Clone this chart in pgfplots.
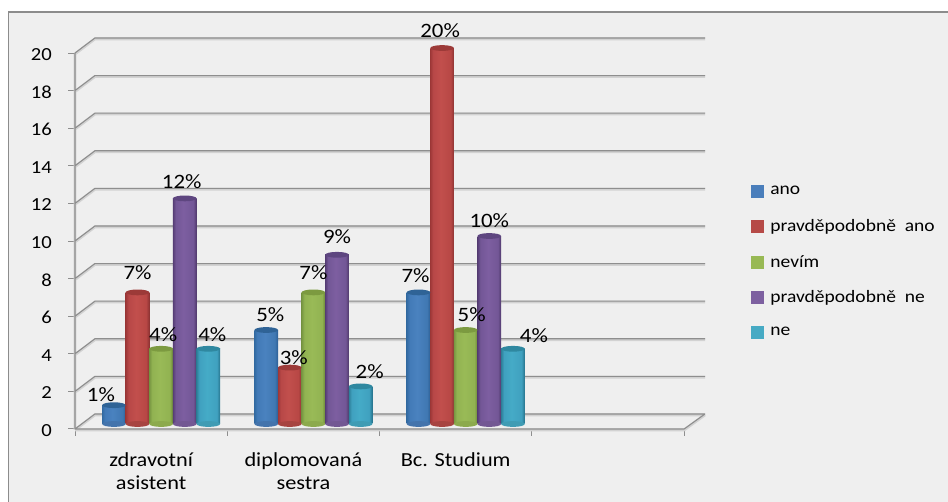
\documentclass[border=0pt]{standalone}
\usepackage{pgfplots}
\usepackage{pgfplotstable}
\usepackage{fontspec}
\pgfplotsset{compat=1.18}
\setmainfont[FakeStretch=1.12]{Carlito}

\definecolor{panel}{HTML}{EFEFEF}
\definecolor{frameline}{HTML}{8C8C8C}
\definecolor{gridline}{HTML}{8E8E8E}
\definecolor{gridshadow}{HTML}{D2D2D2}

\definecolor{capblue}{HTML}{2F6396}
\definecolor{capred}{HTML}{9C3A38}
\definecolor{capgreen}{HTML}{7C9A40}
\definecolor{cappurple}{HTML}{5E4680}
\definecolor{capteal}{HTML}{2F88A0}
\definecolor{legblue}{HTML}{4A7EBB}
\definecolor{legred}{HTML}{B64A47}
\definecolor{leggreen}{HTML}{98B954}
\definecolor{legpurple}{HTML}{7D60A0}
\definecolor{legteal}{HTML}{46AAC4}

% Cylinder bodies: dark rims and a lighter centre, shaded left to right.
\pgfdeclarehorizontalshading{cylblue}{100bp}{rgb(0bp)=(0.20,0.42,0.64);rgb(25bp)=(0.20,0.42,0.64);rgb(31bp)=(0.26,0.48,0.72);rgb(47bp)=(0.29,0.51,0.75);rgb(68bp)=(0.25,0.47,0.70);rgb(75bp)=(0.17,0.37,0.58);rgb(100bp)=(0.17,0.37,0.58)}
\pgfdeclarehorizontalshading{cylred}{100bp}{rgb(0bp)=(0.62,0.22,0.22);rgb(25bp)=(0.62,0.22,0.22);rgb(31bp)=(0.72,0.28,0.28);rgb(47bp)=(0.76,0.31,0.30);rgb(68bp)=(0.72,0.28,0.27);rgb(75bp)=(0.55,0.20,0.20);rgb(100bp)=(0.55,0.20,0.20)}
\pgfdeclarehorizontalshading{cylgreen}{100bp}{rgb(0bp)=(0.47,0.59,0.26);rgb(25bp)=(0.47,0.59,0.26);rgb(31bp)=(0.57,0.70,0.32);rgb(47bp)=(0.60,0.73,0.34);rgb(68bp)=(0.57,0.70,0.32);rgb(75bp)=(0.42,0.53,0.22);rgb(100bp)=(0.42,0.53,0.22)}
\pgfdeclarehorizontalshading{cylpurple}{100bp}{rgb(0bp)=(0.34,0.24,0.46);rgb(25bp)=(0.34,0.24,0.46);rgb(31bp)=(0.45,0.34,0.59);rgb(47bp)=(0.49,0.37,0.63);rgb(68bp)=(0.45,0.34,0.59);rgb(75bp)=(0.31,0.22,0.42);rgb(100bp)=(0.31,0.22,0.42)}
\pgfdeclarehorizontalshading{cylteal}{100bp}{rgb(0bp)=(0.18,0.50,0.60);rgb(25bp)=(0.18,0.50,0.60);rgb(31bp)=(0.25,0.63,0.75);rgb(47bp)=(0.27,0.67,0.78);rgb(68bp)=(0.25,0.63,0.75);rgb(75bp)=(0.15,0.45,0.55);rgb(100bp)=(0.15,0.45,0.55)}

% Top and bottom faces of a cylinder.
\pgfdeclareplotmark{cyl}{\pgfpathellipse{\pgfpointorigin}{\pgfqpoint{11.8bp}{0bp}}{\pgfqpoint{0bp}{2.9bp}}\pgfusepathqfill}

% x = category position, v = percentage, dx/dy = label offset from the bar top
\pgfplotstableread{
x   v  dx   dy
0.5 1  -13  11
1.5 5  4    15
2.5 7  -3   17
}\tano
\pgfplotstableread{
x   v  dx   dy
0.5 7  0    20
1.5 3  4    10
2.5 20 -2   17
}\tpano
\pgfplotstableread{
x   v  dx   dy
0.5 4  2    14
1.5 7  0    20
2.5 5  6    15
}\tnevim
\pgfplotstableread{
x   v  dx   dy
0.5 12 -3   17
1.5 9  0    18
2.5 10 0    15
}\tpne
\pgfplotstableread{
x   v  dx   dy
0.5 4  4    14
1.5 2  9    15
2.5 4  21   13
}\tne

% One bar per plot, so that each cylinder gets its own shading.
\newcommand{\cylbody}[4]{% table, shading, shift, domain
  \addplot[forget plot, ybar, bar width=23.6bp, bar shift=#3, draw=none, shade, shading=#2,
    restrict x to domain=#4]
    table[x=x, y=v] {#1};
}
\newcommand{\cylinder}[5]{% table, shading, cap colour, base colour, shift
  \addplot[forget plot, only marks, mark=cyl, mark options={xshift=#5, color=#4!92!black}]
    table[x=x, y expr=0] {#1};
  \cylbody{#1}{#2}{#5}{0:1}
  \cylbody{#1}{#2}{#5}{1:2}
  \cylbody{#1}{#2}{#5}{2:3}
  \addplot[forget plot, only marks, mark=cyl, mark options={xshift=#5, color=#3}]
    table[x=x, y=v] {#1};
}
\newcommand{\labels}[2]{% table, shift
  \addplot[forget plot, draw=none, mark=none,
    visualization depends on={\thisrow{dx}+#2 \as \labdx},
    visualization depends on={\thisrow{dy} \as \labdy},
    point meta=explicit symbolic,
    nodes near coords={\pgfplotspointmeta\%},
    nodes near coords style={anchor=center, inner sep=0pt, text=black,
      font=\fontsize{20.5}{20.5}\selectfont, xshift=\labdx bp, yshift=\labdy bp}]
    table[x=x, y=v, meta=v] {#1};
}
\newcommand{\legitem}[2]{% colour, text
  \addlegendimage{legend image code/.code={\fill[#1] (0bp,-6bp) rectangle (12bp,6bp); \path (19bp,0bp);}}
  \addlegendentry{#2}
}

\begin{document}
\begin{tikzpicture}[x=1bp, y=1bp]
\useasboundingbox (0,0) rectangle (948,502);
\fill[white] (0,0) rectangle (948,502);
\fill[panel] (8.5,0) rectangle (948,490);
\draw[frameline, line width=1.6bp] (8.5,0) -- (8.5,490) -- (948,490);

% Wall, floor and ticks
\begin{axis}[
  at={(75bp,73bp)}, anchor=south west, scale only axis, width=630bp, height=391bp,
  xmin=0, xmax=4.137, ymin=0, ymax=20.8, clip=false,
  axis line style={draw=none}, axis x line*=bottom, axis y line*=left,
  unbounded coords=jump,
  tick align=outside, major tick length=7bp,
  tick style={gridline, line width=1bp},
  ytick={0,2,...,20},
  xtick={0,1,2,3,4}, xticklabels={},
  extra x ticks={0.5,1.5,2.5},
  extra x tick labels={zdravotní\\asistent, diplomovaná\\sestra, Bc. Studium},
  extra x tick style={major tick length=0pt, tick style={draw=none}},
  /pgf/number format/assume math mode=true,
  yticklabel style={font=\fontsize{18.5}{18.5}\selectfont, text=black, anchor=east,
    inner sep=0pt, xshift=-16bp, yshift=-1.5bp},
  xticklabel style={font=\fontsize{20}{24}\selectfont, text=black, align=center,
    anchor=north, inner sep=0pt, yshift=-23bp},
]
\foreach \c/\w/\s in {gridshadow/2.8bp/-0.9bp, gridline/1.1bp/0bp}{
\edef\temp{\noexpand\addplot[forget plot, \c, line width=\w, yshift=\s, mark=none]}
\temp coordinates {
  (0,0) (0.131,0.8) (4.137,0.8) (nan,nan)
  (0,2) (0.131,2.8) (4.137,2.8) (nan,nan)
  (0,4) (0.131,4.8) (4.137,4.8) (nan,nan)
  (0,6) (0.131,6.8) (4.137,6.8) (nan,nan)
  (0,8) (0.131,8.8) (4.137,8.8) (nan,nan)
  (0,10) (0.131,10.8) (4.137,10.8) (nan,nan)
  (0,12) (0.131,12.8) (4.137,12.8) (nan,nan)
  (0,14) (0.131,14.8) (4.137,14.8) (nan,nan)
  (0,16) (0.131,16.8) (4.137,16.8) (nan,nan)
  (0,18) (0.131,18.8) (4.137,18.8) (nan,nan)
  (0,20) (0.131,20.8) (4.137,20.8) (nan,nan)
  (0,0) (0,20) (nan,nan)
  (0,0) (4,0) (4.137,0.8)
};
}
\end{axis}

% Cylinders, value labels and legend
\begin{axis}[
  at={(85bp,78bp)}, anchor=south west, scale only axis, width=630bp, height=391bp,
  xmin=0, xmax=4.137, ymin=0, ymax=20.8, clip=false,
  hide axis,
  legend style={at={(axis cs:4.373,12.7)}, anchor=north west, draw=none, fill=none,
    font=\fontsize{17.5}{17.5}\selectfont, text=black, inner sep=0pt, outer sep=0pt,
    row sep=22bp, nodes={inner sep=0pt, anchor=west}},
  legend cell align=left,
]
\cylinder{\tano}{cylblue}{capblue}{legblue}{-47.2bp}
\cylinder{\tpano}{cylred}{capred}{legred}{-23.6bp}
\cylinder{\tnevim}{cylgreen}{capgreen}{leggreen}{0bp}
\cylinder{\tpne}{cylpurple}{cappurple}{legpurple}{23.6bp}
\cylinder{\tne}{cylteal}{capteal}{legteal}{47.2bp}
\labels{\tano}{-47.2}
\labels{\tpano}{-23.6}
\labels{\tnevim}{0}
\labels{\tpne}{23.6}
\labels{\tne}{47.2}
\legitem{legblue}{ano}
\legitem{legred}{pravděpodobně\ \ ano}
\legitem{leggreen}{nevím}
\legitem{legpurple}{pravděpodobně\ \ ne}
\legitem{legteal}{ne}
\end{axis}
\end{tikzpicture}
\end{document}
